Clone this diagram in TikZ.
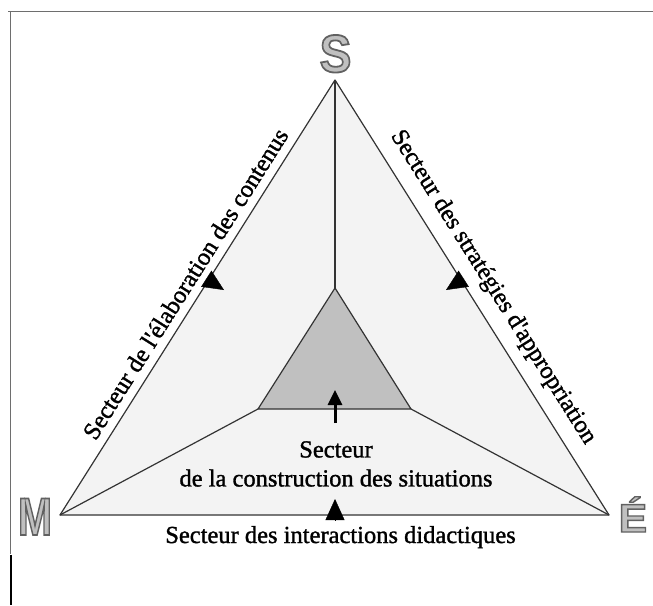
\documentclass[tikz,border=0pt]{standalone}
\usepackage{fontspec}
\setmainfont{Liberation Serif}
\newfontfamily\sectorfont{Liberation Serif}[FakeBold=1.3]
\newfontfamily\cornerfont{Liberation Sans}
\usetikzlibrary{arrows.meta}
\definecolor{sectorgray}{HTML}{F3F3F3}
\definecolor{coregray}{HTML}{C0C0C0}
\definecolor{edgegray}{HTML}{333333}
\definecolor{framegray}{HTML}{6E6E6E}
\newcommand{\outlined}[1]{\special{pdf:literal direct 2 Tr 1.8 w 0.38 0.38 0.38 RG}#1\special{pdf:literal direct 0 Tr}}
\tikzset{
  edge/.style={draw=edgegray, line width=1.2pt, line join=round},
  sectorlabel/.style={font=\sectorfont\fontsize{24.5}{29}\selectfont, inner sep=2pt, align=center},
  cornerletter/.style={font=\cornerfont\bfseries\fontsize{53}{53}\selectfont, text=coregray, anchor=base, inner sep=0pt},
  sectorarrow/.style={-{Triangle[length=21pt,width=19pt]}, line width=0.4pt},
}

\begin{document}
\begin{tikzpicture}[x=1pt,y=-1pt]
      \useasboundingbox (0,0) rectangle (653,605);

      \draw[framegray, line width=0.8pt] (8,11.5) -- (653,11.5);
      \draw[framegray, line width=0.8pt] (10,11.5) -- (10,554);
      \draw[black, line width=2pt] (11,555) -- (11,605);

      \coordinate (S) at (335,80);
      \coordinate (M) at (60,515);
      \coordinate (E) at (609,515);
      \coordinate (coreS) at (335,288);
      \coordinate (coreM) at (258,409);
      \coordinate (coreE) at (411,409);

      \node[cornerletter, xscale=0.9] (letterS) at (335.5,72) {\outlined{S}};
      \node[cornerletter, xscale=0.77] (letterM) at (35,535) {\outlined{M}};
      \node[cornerletter, xscale=0.8, yscale=0.75] (letterE) at (633,532) {\outlined{É}};

      \filldraw[edge, fill=sectorgray] (S) -- (M) -- (E) -- cycle;
      \filldraw[edge, fill=coregray] (coreS) -- (coreM) -- (coreE) -- cycle;
      \draw[edge] (S) -- (coreS);
      \draw[edge] (M) -- (coreM);
      \draw[edge] (E) -- (coreE);

      \path (M) -- (S) node[sectorlabel, pos=0.51, sloped, above, outer sep=7pt] (contenus) {Secteur de l\textquotesingle élaboration des contenus};
      \path (S) -- (E) node[sectorlabel, pos=0.505, sloped, above, outer sep=10pt] (strategies) {Secteur des stratégies d\textquotesingle appropriation};
      \node[sectorlabel, anchor=north, inner sep=0pt] (construction) at (336,441) {Secteur\\de la construction des situations};
      \node[sectorlabel, anchor=base, inner sep=0pt] (interactions) at (340.5,543) {Secteur des interactions didactiques};

      \coordinate (arrL) at (206,278.5);
      \coordinate (arrLtip) at (224,290);
      \coordinate (arrR) at (464,278.5);
      \coordinate (arrRtip) at (446,290);
      \coordinate (arrB) at (335,520);
      \coordinate (arrBtip) at (335,499);
      \coordinate (arrC) at (335,423);
      \coordinate (arrCtip) at (335,390);

      \draw[sectorarrow] (arrL) -- (arrLtip);
      \draw[sectorarrow] (arrR) -- (arrRtip);
      \draw[sectorarrow] (arrB) -- (arrBtip);
      \draw[-{Triangle[length=15pt,width=14pt]}, line width=3pt] (arrC) -- (arrCtip);
    \end{tikzpicture}
\end{document}
